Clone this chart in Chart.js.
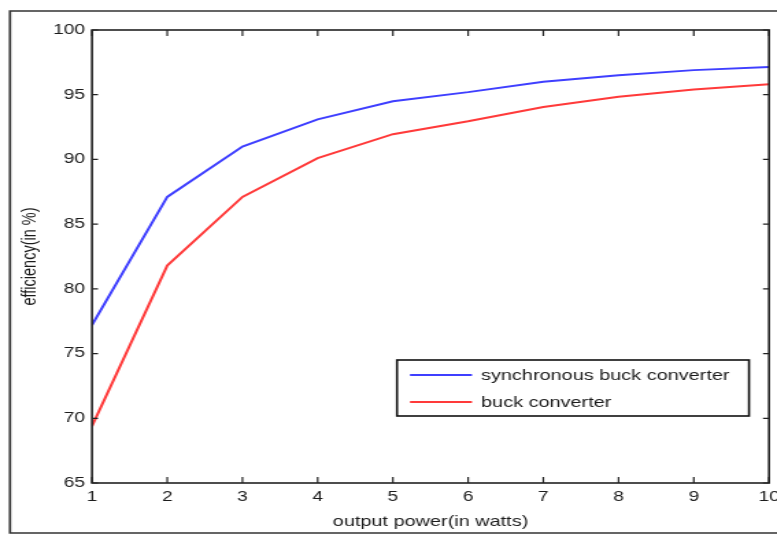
<!DOCTYPE html>
<html>
<head>
<meta charset="utf-8">
<script src="https://cdn.jsdelivr.net/npm/chart.js@4"></script>
<style>
  html, body { margin: 0; padding: 0; background: #fff; overflow: hidden; }
  #c { display: block; width: 777px; height: 534px; }
</style>
</head>
<body>
<canvas id="c" width="567" height="534" style="width:777px;height:534px"></canvas>
<script>
// ---- data ----
const outputPower = [1, 2, 3, 4, 5, 6, 7, 8, 9, 10];
const syncBuckEff = [77.2, 87.1, 91.0, 93.1, 94.5, 95.2, 96.0, 96.5, 96.9, 97.15];
const buckEff     = [69.4, 81.8, 87.1, 90.1, 91.95, 92.95, 94.05, 94.85, 95.4, 95.8];
const seriesNames = ['synchronous buck converter', 'buck converter'];
const xTitle = 'output power(in watts)';
const yTitle = 'efficiency(in %)';

// The reference picture is stretched horizontally; the canvas bitmap is drawn
// narrower and displayed at full width to reproduce that look.
const SX = 777 / 567;
const FONT = "'Liberation Sans', Arial, sans-serif";
const INK = '#1c1c1c';

const toPts = ys => outputPower.map((x, i) => ({ x, y: ys[i] }));

const decor = {
  id: 'decor',
  beforeDraw(chart) {
    const ctx = chart.ctx;
    ctx.save();
    ctx.fillStyle = '#fff';
    ctx.fillRect(0, 0, chart.width, chart.height);
    // outer figure frame (right edge is outside the picture)
    ctx.strokeStyle = '#333';
    ctx.lineWidth = 1.7;
    ctx.beginPath();
    ctx.moveTo(chart.width + 5, 11);
    ctx.lineTo(10 / SX, 11);
    ctx.lineTo(10 / SX, 533);
    ctx.lineTo(chart.width + 5, 533);
    ctx.stroke();
    ctx.restore();
  },
  afterDraw(chart) {
    const ctx = chart.ctx;
    const a = chart.chartArea;
    const xs = chart.scales.x, ys = chart.scales.y;
    ctx.save();
    // axes box
    ctx.strokeStyle = '#222';
    ctx.lineWidth = 1.6;
    ctx.strokeRect(a.left, a.top, a.right - a.left, a.bottom - a.top);
    // inward tick marks on all four sides
    ctx.lineWidth = 1.2;
    ctx.beginPath();
    const tlx = 6 / SX, tly = 6;
    ys.ticks.forEach(t => {
      const y = ys.getPixelForValue(t.value);
      ctx.moveTo(a.left, y); ctx.lineTo(a.left + tlx, y);
      ctx.moveTo(a.right, y); ctx.lineTo(a.right - tlx, y);
    });
    xs.ticks.forEach(t => {
      const x = xs.getPixelForValue(t.value);
      ctx.moveTo(x, a.bottom); ctx.lineTo(x, a.bottom - tly);
      ctx.moveTo(x, a.top); ctx.lineTo(x, a.top + tly);
    });
    ctx.stroke();

    // legend box inside the axes
    const L = 397 / SX, R = 749 / SX, T = 360, B = 416;
    ctx.fillStyle = '#fff';
    ctx.fillRect(L, T, R - L, B - T);
    ctx.strokeStyle = '#111';
    ctx.lineWidth = 1.6;
    ctx.strokeRect(L, T, R - L, B - T);
    const rowsY = [375, 402];
    chart.data.datasets.forEach((ds, i) => {
      const y = rowsY[i];
      ctx.strokeStyle = ds.borderColor;
      ctx.lineWidth = 2;
      ctx.beginPath();
      ctx.moveTo(410 / SX, y);
      ctx.lineTo(472 / SX, y);
      ctx.stroke();
      ctx.fillStyle = INK;
      ctx.font = `14.5px ${FONT}`;
      ctx.textAlign = 'left';
      ctx.textBaseline = 'middle';
      ctx.fillText(ds.label, 481 / SX, y + 0.5);
    });
    ctx.restore();
  }
};

new Chart(document.getElementById('c'), {
  type: 'line',
  data: {
    datasets: [
      { label: seriesNames[0], data: toPts(syncBuckEff), borderColor: '#3f3fff',
        borderWidth: 2, pointRadius: 0, tension: 0, fill: false },
      { label: seriesNames[1], data: toPts(buckEff), borderColor: '#ff3a3a',
        borderWidth: 2, pointRadius: 0, tension: 0, fill: false }
    ]
  },
  options: {
    responsive: false,
    animation: false,
    devicePixelRatio: 1,
    layout: { padding: { left: 0, top: 30, right: 567 - 769 / SX, bottom: 0 } },
    plugins: { legend: { display: false }, tooltip: { enabled: false } },
    scales: {
      x: {
        type: 'linear', min: 1, max: 10,
        ticks: { stepSize: 1, padding: 6, color: INK, font: { family: FONT, size: 14 } },
        grid: { display: false, drawTicks: false },
        border: { display: false },
        title: { display: true, text: xTitle, color: INK,
                 font: { family: FONT, size: 14.5 }, padding: { top: 0, bottom: 3.3 } },
        afterFit(s) { s.height = 534 - 483; s.paddingLeft = 0; s.paddingRight = 0; }
      },
      y: {
        min: 65, max: 100,
        ticks: { stepSize: 5, padding: 5, color: INK, font: { family: FONT, size: 14 } },
        grid: { display: false, drawTicks: false },
        border: { display: false },
        title: { display: true, text: yTitle, color: INK,
                 font: { family: FONT, size: 14.5 }, padding: { top: 13.2, bottom: 0 } },
        afterFit(s) { s.width = 92 / SX; s.paddingTop = 0; s.paddingBottom = 0; }
      }
    }
  },
  plugins: [decor]
});
</script>
</body>
</html>
